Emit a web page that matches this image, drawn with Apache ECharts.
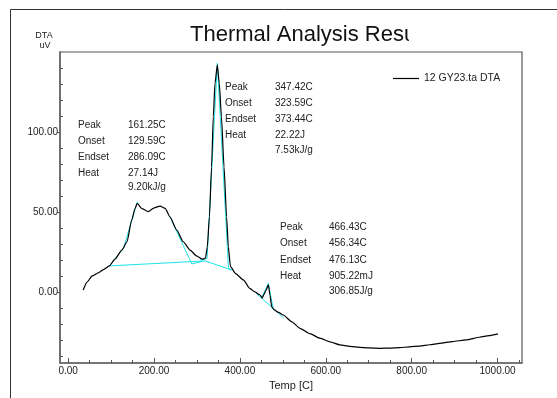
<!DOCTYPE html>
<html>
<head>
<meta charset="utf-8">
<script src="https://cdn.jsdelivr.net/npm/echarts@6/dist/echarts.min.js"></script>
<style>
html,body{margin:0;padding:0;background:#fff;}
#c{width:557px;height:398px;}
</style>
</head>
<body>
<div id="c"></div>
<script>
// ---- data ----
var seriesName = '12 GY23.ta DTA';
var tempC = [35,44,56,70,82,96,109,125,137,148,156,161,171,187,198,214,226,237,253,268,284,299,312,318,320,324,329,334,338,342,347.4,352,357,363,369,373,378,390,408,423,435,447,452,456,461,466.4,470,474,480,490,501,520,540,563,586,610,633,656,679,700,726,750,772,795,819,842,865,895,927,958,980,1001];
var dtaUV = [1.2,6.2,10,11.9,14,16.3,20.5,26.2,31.4,45,52.3,55.4,52.3,50.2,52.3,53.7,52.3,47,38.7,31.4,26.2,22.5,20.5,20.8,21.5,28,47,78,109.6,130.4,141.9,130.4,109.6,78.3,47,28.3,15.8,11.5,7.5,2.3,0,-1.9,-3.8,-1.5,1.2,4.4,-1.9,-9.2,-11.2,-12.8,-14.4,-18.5,-22.7,-26,-28.9,-31.2,-33.1,-34,-34.6,-35,-35.2,-35.1,-34.8,-34.3,-33.8,-33,-32.1,-31,-30,-28.3,-27.3,-26.2];
// analysis construction lines (cyan)
var baseT = [96,319,381];
var baseV = [16.3,19.4,13.7];
var p1LeftT = [96,129,161];
var p1LeftV = [16.3,27.3,56.4];
var p1RightT = [237,288,315];
var p1RightV = [47,17.5,19.4];
var p2T = [307,323.6,347.4,373.4,381];
var p2V = [20,21,143,15,13.7];
var p3T = [450,466.4,478];
var p3V = [-3.9,5.4,-11.3];
var p3BaseT = [437,502];
var p3BaseV = [-0.6,-16.3];
var xLabelVals = [0,200,400,600,800,1000];
var xMinorVals = [50,100,150,250,300,350,450,500,550,650,700,750,850,900,950,1050];
var yLabelVals = [0,50,100];
var yMinorVals = [-40,-30,-20,-10,10,20,30,40,60,70,80,90,110,120,130,140];
var titleText = 'Thermal Analysis Result';
var axisYName = ['DTA','uV'];
var axisXName = 'Temp [C]';
var peakLabels = ['Peak','Onset','Endset','Heat'];
var peak1Vals = ['161.25C','129.59C','286.09C','27.14J','9.20kJ/g'];
var peak2Vals = ['347.42C','323.59C','373.44C','22.22J','7.53kJ/g'];
var peak3Vals = ['466.43C','456.34C','476.13C','905.22mJ','306.85J/g'];

function zip(a,b){return a.map(function(v,i){return [v,b[i]];});}

var FONT = '"Liberation Sans", Arial, sans-serif';
var CYAN = '#1ee3ea';

function block(x1, x2, ys, vals){
  var out = [];
  peakLabels.forEach(function(l,i){
    out.push({type:'text', left:x1, top:ys[i]-6, style:{text:l, font:'10px '+FONT, fill:'#222'}});
  });
  vals.forEach(function(v,i){
    out.push({type:'text', left:x2, top:ys[i]-6, style:{text:v, font:'10px '+FONT, fill:'#222'}});
  });
  return out;
}

var graphics = [
  {type:'rect', shape:{x:10.5,y:9.5,width:700,height:500}, style:{fill:null, stroke:'#333', lineWidth:1}, silent:true, z:-1},
  {type:'text', x:44, y:31, style:{text:axisYName[0], font:'9px '+FONT, fill:'#222', textAlign:'center'}},
  {type:'text', x:45, y:41, style:{text:axisYName[1], font:'9px '+FONT, fill:'#222', textAlign:'center'}},
  {type:'text', left:190, top:24, z:10, style:{text:titleText, font:'22px '+FONT, fill:'#111'}},
  {type:'rect', shape:{x:409,y:18,width:130,height:32}, style:{fill:'#fff'}, z:11, silent:true}
].concat(block(78,128,[126,142,158,174,188],peak1Vals))
 .concat(block(225,275,[88,104,120,136,151],peak2Vals))
 .concat(block(280,329,[228,244,261,277,292],peak3Vals));

function cyan(t,v){
  return {type:'line', data:zip(t,v), symbol:'none', silent:true, z:2,
    lineStyle:{color:CYAN, width:1}, itemStyle:{color:CYAN}};
}

var chart = echarts.init(document.getElementById('c'), null, {renderer:'canvas'});
chart.setOption({
  animation:false,
  backgroundColor:'#fff',
  textStyle:{fontFamily:FONT},
  grid:{left:60, top:52, right:35, bottom:35, show:true, borderColor:'#555', borderWidth:1.2, containLabel:false},
  legend:{
    data:[{name:seriesName, icon:'rect'}],
    left:388, top:68, itemWidth:26, itemHeight:1.2, itemGap:4,
    textStyle:{fontSize:10.5, color:'#222', fontFamily:FONT}
  },
  xAxis:[{
    type:'value', min:-19, max:1057, position:'bottom',
    name:axisXName, nameLocation:'middle', nameGap:16,
    nameTextStyle:{fontSize:11, color:'#222', fontFamily:FONT},
    axisLine:{show:true, onZero:false, lineStyle:{color:'#666', width:1.5}},
    axisTick:{show:true, inside:true, length:5, customValues:xLabelVals, lineStyle:{color:'#555'}},
    axisLabel:{show:true, customValues:xLabelVals, margin:3, fontSize:10, color:'#222', fontFamily:FONT,
      formatter:function(v){return v.toFixed(2);}},
    splitLine:{show:false}
  },{
    type:'value', min:-19, max:1057, position:'bottom', offset:0,
    axisLine:{show:false, onZero:false},
    axisTick:{show:true, inside:true, length:3, customValues:xMinorVals, lineStyle:{color:'#555'}},
    axisLabel:{show:false}, splitLine:{show:false}
  }],
  yAxis:[{
    type:'value', min:-44.4, max:150, position:'left',
    axisLine:{show:true, onZero:false, lineStyle:{color:'#666', width:1.5}},
    axisTick:{show:true, inside:false, length:3, customValues:yLabelVals, lineStyle:{color:'#555'}},
    axisLabel:{show:true, customValues:yLabelVals, margin:2, fontSize:10, color:'#222', fontFamily:FONT,
      formatter:function(v){return v.toFixed(2);}},
    splitLine:{show:false}
  },{
    type:'value', min:-44.4, max:150, position:'left', offset:0,
    axisLine:{show:false, onZero:false},
    axisTick:{show:true, inside:true, length:3, customValues:yMinorVals, lineStyle:{color:'#555'}},
    axisLabel:{show:false}, splitLine:{show:false}
  }],
  graphic:graphics,
  series:[
    {name:seriesName, type:'line', data:zip(tempC,dtaUV), symbol:'none', z:3,
      smooth:0.2, smoothMonotone:'x',
      lineStyle:{color:'#000', width:1.2}, itemStyle:{color:'#000'}},
    cyan(baseT,baseV), cyan(p1LeftT,p1LeftV), cyan(p1RightT,p1RightV),
    cyan(p2T,p2V), cyan(p3T,p3V), cyan(p3BaseT,p3BaseV)
  ]
});
</script>
</body>
</html>
